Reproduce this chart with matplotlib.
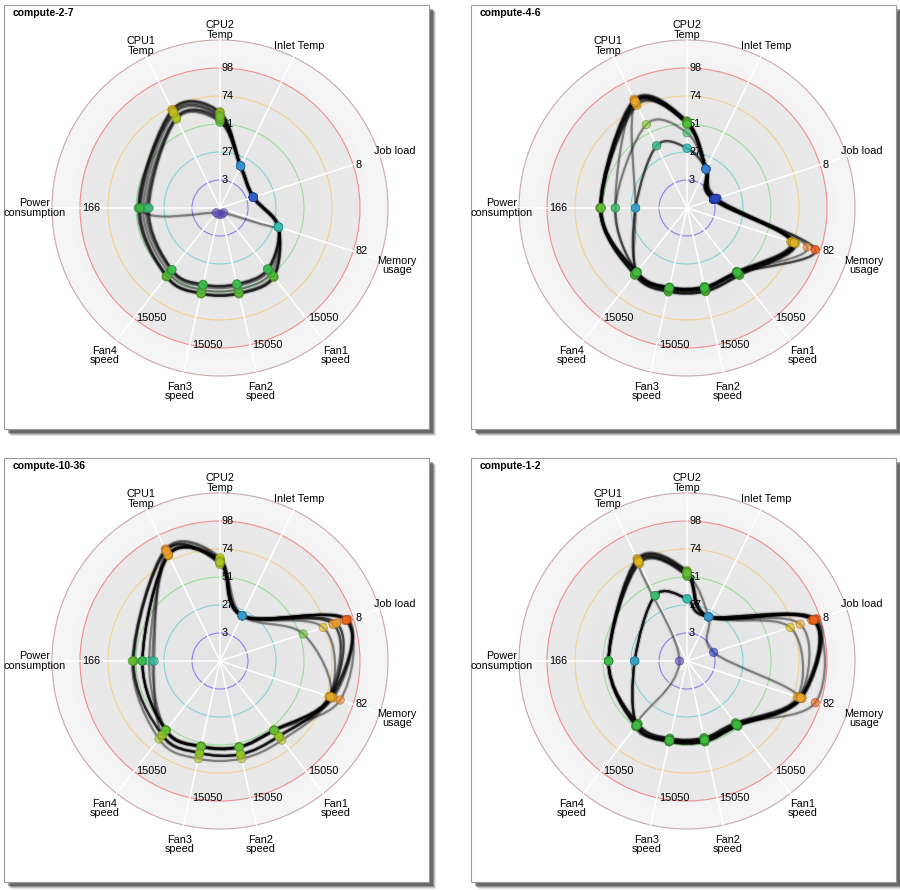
import numpy as np
import matplotlib.pyplot as plt
from matplotlib.path import Path
from matplotlib.patches import PathPatch, Circle, Rectangle
from matplotlib.colors import LinearSegmentedColormap

plt.rcParams['font.family'] = ['Liberation Sans', 'DejaVu Sans']

# metric axes, clockwise from the top
METRICS = ['CPU2\nTemp', 'Inlet Temp', 'Job load', 'Memory\nusage', 'Fan1\nspeed',
           'Fan2\nspeed', 'Fan3\nspeed', 'Fan4\nspeed', 'Power\nconsumption', 'CPU1\nTemp']
ANGLES = [0, 26, 72, 108, 142, 167.5, 192.5, 218, 270, 334]
# values sitting on the first and the fifth (red) ring of each axis
RING1 = [3, 3, 1.6, 16.4, 3010, 3010, 3010, 3010, 33.2, 3]
RING5 = [98, 98, 8, 82, 15050, 15050, 15050, 15050, 166, 98]
SHOW_MAX = [False, False, True, True, True, True, True, True, True, False]

HOSTS = ['compute-2-7', 'compute-4-6', 'compute-10-36', 'compute-1-2']

# one row per sample: CPU2, Inlet, Job, Mem, Fan1..Fan4, Power, CPU1
COMPUTE_2_7 = [
    [61, 19, 2.0, 36, 9450, 9450, 9450, 9400, 97, 72],
    [60, 19, 2.0, 36, 9400, 9450, 9450, 9350, 96, 72],
    [60, 19, 2.0, 36, 9350, 9400, 9400, 9300, 95, 71],
    [58, 19, 2.0, 36, 9250, 9300, 9350, 9250, 94, 70],
    [56, 19, 2.0, 36, 8900, 8950, 9000, 8900, 91, 68],
    [54, 19, 2.0, 36, 8550, 8600, 8650, 8600, 88, 65],
    [53, 19, 2.0, 36, 8400, 8400, 8450, 8450, 86, 64],
    [52, 19, 2.0, 36, 8300, 8350, 8400, 8400, 84, 63],
    [55, 19, 2.0, 36, 8350, 8400, 8450, 8400, 85, 64],
    [57, 19, 2.0, 36, 650, 700, 700, 650, 95, 69],
]
COMPUTE_4_6 = [
    [53, 16, 1.6, 66, 9200, 9200, 9250, 9150, 103, 81],
    [53, 16, 1.6, 67, 9150, 9200, 9200, 9150, 103, 82],
    [52, 16, 1.6, 66, 9100, 9150, 9150, 9100, 103, 81],
    [52, 16, 1.6, 65, 9000, 9050, 9100, 9050, 102, 80],
    [51, 16, 1.8, 64, 8800, 8800, 8850, 8800, 102, 77],
    [51, 16, 1.8, 64, 8650, 8650, 8700, 8700, 102, 76],
    [52, 16, 1.6, 79, 8900, 8900, 8950, 8900, 103, 80],
    [52, 16, 1.6, 79, 8850, 8900, 8900, 8850, 102, 79],
    [51, 16, 1.6, 74, 8700, 8750, 8800, 8750, 102, 78],
    [30, 16, 1.6, 65, 8800, 8750, 8800, 8800, 61, 38],
    [30, 16, 1.6, 65, 8750, 8700, 8750, 8750, 61, 38],
    [43, 16, 1.7, 66, 8800, 8700, 8750, 8750, 85, 58],
    [51, 16, 1.7, 66, 8750, 8750, 8800, 8800, 61, 79],
    [50, 16, 1.7, 66, 8800, 8800, 8800, 8800, 85, 80],
]
COMPUTE_10_36 = [
    [65, 22, 7.7, 68, 9450, 9450, 9400, 9450, 92, 79],
    [65, 22, 7.6, 68, 9450, 9500, 9400, 9450, 92, 79],
    [64, 22, 7.6, 69, 9400, 9450, 9350, 9400, 92, 79],
    [64, 22, 7.6, 70, 9450, 9450, 9400, 9450, 92, 80],
    [63, 22, 7.5, 74, 9500, 9500, 9450, 9500, 92, 79],
    [66, 22, 7.0, 68, 10250, 10300, 10100, 10100, 102, 84],
    [67, 22, 6.8, 67, 10300, 10250, 10100, 10050, 103, 85],
    [62, 22, 6.8, 68, 10200, 10250, 10150, 10100, 103, 83],
    [61, 22, 6.2, 68, 10800, 10750, 10750, 10650, 104, 84],
    [63, 22, 5.0, 68, 9500, 9500, 9450, 9500, 84, 79],
    [64, 22, 7.6, 69, 9450, 9500, 9450, 9450, 80, 80],
    [63, 22, 7.0, 68, 10300, 10250, 10150, 10100, 78, 83],
]
COMPUTE_1_2 = [
    [56, 21, 7.8, 70, 8900, 8900, 8900, 8950, 93, 76],
    [55, 21, 7.7, 70, 8850, 8900, 8850, 8900, 93, 75],
    [55, 21, 7.6, 71, 8850, 8850, 8900, 8900, 93, 75],
    [54, 21, 7.6, 69, 8800, 8850, 8850, 8850, 93, 74],
    [52, 21, 7.5, 79, 8500, 8500, 8550, 8600, 93, 72],
    [51, 21, 6.8, 69, 8450, 8450, 8500, 8600, 93, 71],
    [52, 21, 6.2, 68, 8450, 8450, 8500, 8550, 93, 72],
    [53, 21, 1.6, 69, 8600, 8600, 8650, 8700, 93, 73],
    [32, 21, 7.6, 70, 8700, 8650, 8700, 8800, 62, 41],
    [32, 21, 7.6, 70, 8700, 8700, 8700, 8800, 62, 41],
    [32, 21, 7.7, 70, 8650, 8650, 8700, 8750, 62, 41],
    [32, 21, 7.6, 70, 8700, 8700, 8750, 8800, 62, 41],
    [54, 21, 7.6, 70, 8700, 8700, 8750, 8800, 9, 73],
]
SAMPLES = [COMPUTE_2_7, COMPUTE_4_6, COMPUTE_10_36, COMPUTE_1_2]

# page layout in pixels
FIG_W, FIG_H = 900, 890
BOX_W, BOX_H = 425, 424
BOXES = [(4, 5), (471, 5), (4, 458), (471, 458)]
CX, CY = 216, 203          # radar centre inside a box
RING = 28                  # pixel spacing of the rings
N_RINGS = 6

RING_COLORS = ['#8b80ee', '#86d2d8', '#98de98', '#f3cf8e', '#f08c8c', '#c9a8a8']
value_cmap = LinearSegmentedColormap.from_list('load', [
    (0.00, '#6a4fc0'), (0.20, '#2a3fbf'), (0.33, '#3a8ed8'), (0.44, '#38bfb2'),
    (0.58, '#3dbb3d'), (0.70, '#a6c824'), (0.78, '#dcbc1e'), (0.87, '#f0a030'),
    (1.00, '#ee4414')])


def ring_pos(v, i):
    """Position of a value on axis i, in ring units (1 = first ring)."""
    return 1 + 4 * (v - RING1[i]) / (RING5[i] - RING1[i])


def xy(r, ang):
    a = np.deg2rad(ang)
    return r * np.sin(a), r * np.cos(a)


def closed_spline(pts):
    # Catmull-Rom through the points, as cubic Bezier segments
    n = len(pts)
    verts = [pts[0]]
    codes = [Path.MOVETO]
    for i in range(n):
        p0, p1, p2, p3 = pts[i - 1], pts[i], pts[(i + 1) % n], pts[(i + 2) % n]
        verts += [p1 + (p2 - p0) / 6, p2 - (p3 - p1) / 6, p2]
        codes += [Path.CURVE4] * 3
    return Path(verts, codes)


def draw_radar(ax, host, samples):
    R = RING * N_RINGS
    # shaded disc
    g = np.linspace(-R, R, 500)
    X, Y = np.meshgrid(g, g)
    rr = np.hypot(X, Y) / RING
    shade = np.where(rr <= 5, 0.892 + 0.004 * rr, 0.955 + 0.006 * (rr - 5))
    disc = Circle((0, 0), R, transform=ax.transData)
    im = ax.imshow(shade, extent=(-R, R, -R, R), cmap='gray', vmin=0, vmax=1,
                   origin='lower', zorder=0, interpolation='bilinear')
    im.set_clip_path(disc)

    for k in range(1, N_RINGS + 1):
        ax.add_patch(Circle((0, 0), k * RING, fill=False, ec=RING_COLORS[k - 1],
                            lw=0.8, zorder=1))
    for ang in ANGLES:
        x, y = xy(R, ang)
        ax.plot([0, x], [0, y], color='white', lw=1.1, zorder=2)

    # scale labels
    for k in range(1, 6):
        v = RING1[0] + (k - 1) * (RING5[0] - RING1[0]) / 4
        ax.text(2, k * RING, str(int(v + 0.5)), fontsize=7.8, ha='left',
                va='center', zorder=3)
    for i, ang in enumerate(ANGLES):
        if SHOW_MAX[i]:
            x, y = xy(5 * RING, ang)
            ax.text(x + 2, y, f'{RING5[i]:g}', fontsize=7.8, ha='left',
                    va='center', zorder=3)
        lab_r = 178 + 10 * abs(np.sin(np.deg2rad(ang) / 2))
        x, y = xy(lab_r, ang)
        ax.text(x, y, METRICS[i], fontsize=7.8, ha='center', va='center',
                linespacing=0.9, zorder=6)

    # one smooth loop and a ring of dots per sample
    for row in samples:
        r = np.array([ring_pos(v, i) for i, v in enumerate(row)])
        px, py = xy(r * RING, np.array(ANGLES))
        path = closed_spline(np.column_stack([px, py]))
        ax.add_patch(PathPatch(path, fill=False, ec='black', lw=3.5,
                               alpha=0.05, zorder=4))
        ax.add_patch(PathPatch(path, fill=False, ec='black', lw=1.6,
                               alpha=0.42, zorder=4))
        cols = value_cmap(np.clip(r / 5, 0, 1))
        face = cols.copy()
        face[:, 3] = 0.62
        edge = cols.copy()
        edge[:, :3] *= 0.7
        edge[:, 3] = 0.6
        ax.scatter(px, py, s=36, c=face, edgecolors=edge, linewidths=0.6, zorder=5)

    ax.text(9 - CX, CY - 8, host, fontsize=7.5, fontweight='bold', ha='left',
            va='center', zorder=6)


fig = plt.figure(figsize=(FIG_W / 100, FIG_H / 100), dpi=100)
page = fig.add_axes([0, 0, 1, 1])
page.set_xlim(0, FIG_W)
page.set_ylim(FIG_H, 0)
page.axis('off')

for (bx, by), host, samples in zip(BOXES, HOSTS, SAMPLES):
    for d, a in [(7, 0.12), (6, 0.2), (5, 0.3), (4, 0.4)]:
        page.add_patch(Rectangle((bx + d, by + d), BOX_W, BOX_H, fc='#2a2a2a',
                                 ec='none', alpha=a))
    page.add_patch(Rectangle((bx, by), BOX_W, BOX_H, fc='white', ec='#9a9a9a', lw=0.8))

    ax = fig.add_axes([bx / FIG_W, 1 - (by + BOX_H) / FIG_H, BOX_W / FIG_W, BOX_H / FIG_H])
    ax.set_xlim(-CX, BOX_W - CX)
    ax.set_ylim(-(BOX_H - CY), CY)
    ax.axis('off')
    draw_radar(ax, host, samples)

fig.savefig('out.png', dpi=100)
